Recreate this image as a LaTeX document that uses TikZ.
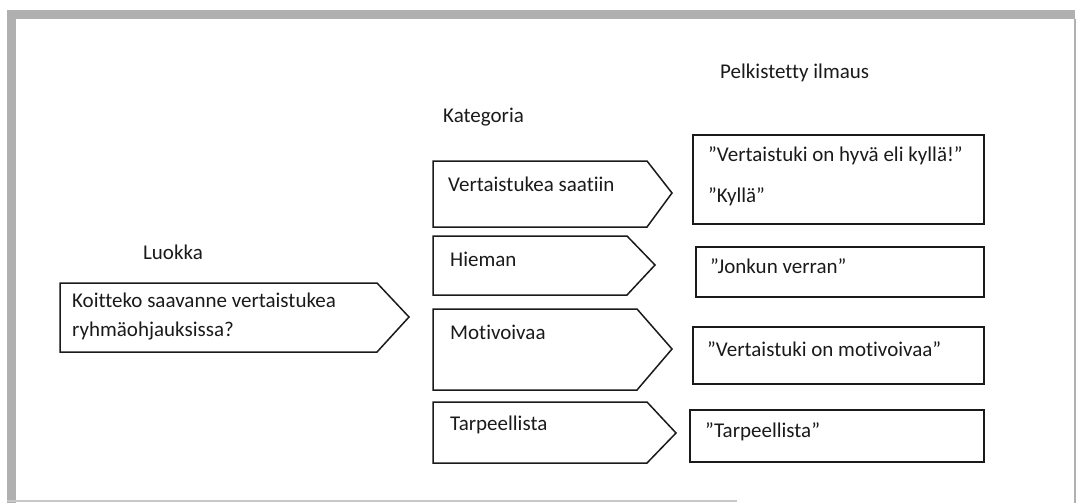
\documentclass[tikz,border=0pt]{standalone}
\usepackage{fontspec}
\setmainfont{Carlito}[Ligatures=NoCommon]
\usepackage{xcolor}
\definecolor{Frame}{HTML}{B0B0B0}
\definecolor{Ink}{HTML}{1A1A1A}
\tikzset{
  shapeline/.style={draw=Ink,line width=1.5pt,line join=miter},
  lbl/.style={anchor=west,inner sep=0pt,text=Ink},
  head/.style={anchor=center,inner sep=0pt,text=Ink}
}

\begin{document}
\begin{tikzpicture}[x=1pt,y=-1pt,font=\fontsize{21}{29}\selectfont]
    \useasboundingbox (0,0) rectangle (1077,503);
    % frame
    \fill[Frame] (7,10) rectangle (16,503);
    \fill[Frame] (7,10) rectangle (1075,19);
    \draw[Frame,line width=2.5pt] (1075,19) -- (1075,503);
    \draw[Frame!70,line width=2pt] (7,501) -- (737,501);
    % headings
    \node[head] (luokka) at (173,252) {Luokka};
    \node[lbl] (kategoria) at (443,117) {Kategoria};
    \node[lbl] (pelkistetty) at (720,73) {Pelkistetty ilmaus};
    % class
    \draw[shapeline] (60,283) -- (377,283) -- (409,317) -- (377,352) -- (60,352) -- cycle;
    \node[lbl,align=left] (kysymys) at (72,317) {Koitteko saavanne vertaistukea\\ryhmäohjauksissa?};
    % categories
    \draw[shapeline] (433,161) -- (647,161) -- (672,193) -- (647,227) -- (433,227) -- cycle;
    \node[lbl] (saatiin) at (448,184) {Vertaistukea saatiin};
    \draw[shapeline] (433,236) -- (627,236) -- (655,265) -- (627,295) -- (433,295) -- cycle;
    \node[lbl] (hieman) at (450,259) {Hieman};
    \draw[shapeline] (433,309) -- (637,309) -- (672,349) -- (637,390) -- (433,390) -- cycle;
    \node[lbl] (motivoivaa) at (450,332) {Motivoivaa};
    \draw[shapeline] (433,402) -- (647,402) -- (676,433) -- (647,463) -- (433,463) -- cycle;
    \node[lbl] (tarpeellista) at (450,425) {Tarpeellista};
    % reduced expressions
    \draw[shapeline] (693,135) rectangle (984,224);
    \node[lbl] (hyva) at (708,156) {”Vertaistuki on hyvä eli kyllä!”};
    \node[lbl] (kylla) at (708,197) {”Kyllä”};
    \draw[shapeline] (696,247) rectangle (984,297);
    \node[lbl] (verran) at (710,266) {”Jonkun verran”};
    \draw[shapeline] (693,327) rectangle (984,384);
    \node[lbl] (motivoi) at (707,349) {”Vertaistuki on motivoivaa”};
    \draw[shapeline] (690,410) rectangle (984,462);
    \node[lbl] (tarpeen) at (705,432) {”Tarpeellista”};
  \end{tikzpicture}
\end{document}
